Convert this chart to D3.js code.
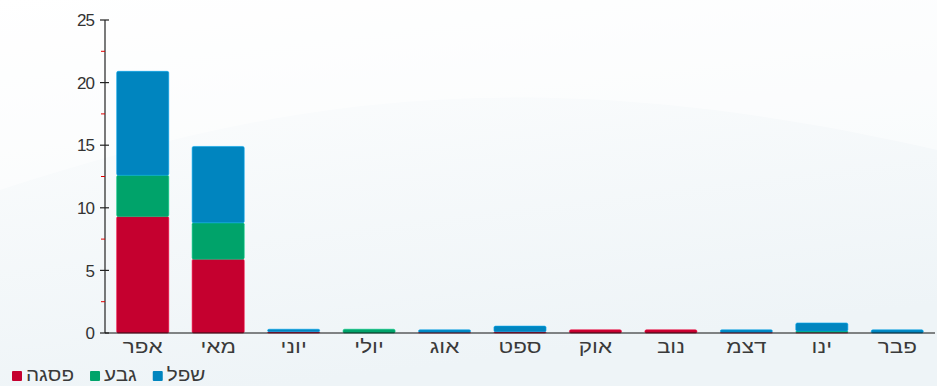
<!DOCTYPE html>
<html><head><meta charset="utf-8">
<script src="https://cdn.jsdelivr.net/npm/d3@7"></script>
<style>
html,body{margin:0;padding:0;}
body{width:937px;height:386px;overflow:hidden;}
text{font-family:"Liberation Sans","DejaVu Sans",sans-serif;}
</style></head><body>
<svg id="c" width="937" height="386"></svg>
<script>
const months = ["אפר","מאי","יוני","יולי","אוג","ספט","אוק","נוב","דצמ","ינו","פבר"];
const seriesNames = ["פסגה","גבע","שפל"];
const seriesColors = ["#c5002f","#00a36a","#0085bf"];
const peak    = [9.3, 5.9, 0.1, 0.0, 0.05, 0.1, 0.25, 0.25, 0.05, 0.05, 0.0];
const shoulder= [3.3, 2.9, 0.0, 0.3, 0.0, 0.0, 0.0, 0.0, 0.0, 0.1, 0.0];
const low     = [8.3, 6.1, 0.2, 0.0, 0.2, 0.45, 0.0, 0.0, 0.2, 0.65, 0.25];
const yTicks = [0,5,10,15,20,25];
const yMinor = [2.5,7.5,12.5,17.5,22.5];

const svg = d3.select("#c");
const defs = svg.append("defs");
const g1 = defs.append("linearGradient").attr("id","bg").attr("x1","0").attr("y1","0").attr("x2","0.3").attr("y2","1");
g1.append("stop").attr("offset","0").attr("stop-color","#ffffff");
g1.append("stop").attr("offset","1").attr("stop-color","#eef4f7");
svg.append("rect").attr("width",937).attr("height",386).attr("fill","url(#bg)");
svg.append("path").attr("d","M0,190 C250,110 500,50 937,150 L937,0 L0,0 Z").attr("fill","#ffffff").attr("opacity",0.45);

const x = d3.scaleBand().domain(months).range([105,935]).paddingInner(0.31).paddingOuter(0.155);
const y = d3.scaleLinear().domain([0,25]).range([333,20]);

const data = months.map((m,i)=>({m, "פסגה":peak[i], "גבע":shoulder[i], "שפל":low[i]}));
const stack = d3.stack().keys(seriesNames)(data);

const gb = svg.append("g");
stack.forEach((s,si)=>{
  gb.selectAll(null).data(s).enter().append("rect")
    .attr("x",d=>x(d.data.m))
    .attr("y",d=>y(d[1]))
    .attr("width",x.bandwidth())
    .attr("height",d=>Math.max(0,y(d[0])-y(d[1])))
    .attr("rx",1.5)
    .attr("fill",seriesColors[si])
    .attr("stroke",d3.color(seriesColors[si]).brighter(0.6))
    .attr("stroke-width",0.6);
});

// y axis
const ya = svg.append("g").attr("transform","translate(105,0)");
ya.append("line").attr("y1",y(25)).attr("y2",y(0)).attr("stroke","#222").attr("stroke-width",1.2);
ya.selectAll(".mj").data(yTicks).enter().append("line")
  .attr("x1",-5).attr("x2",4).attr("y1",d=>y(d)).attr("y2",d=>y(d)).attr("stroke","#222").attr("stroke-width",1.2);
ya.selectAll(".mn").data(yMinor).enter().append("line")
  .attr("x1",-4).attr("x2",0).attr("y1",d=>y(d)).attr("y2",d=>y(d)).attr("stroke","#e00000").attr("stroke-width",1);
ya.selectAll(".lb").data(yTicks).enter().append("text")
  .attr("x",-11).attr("y",d=>y(d)).attr("dy","0.36em").attr("text-anchor","end")
  .attr("font-size",17).attr("fill","#333").attr("letter-spacing","-1").text(d=>d);

// x axis
svg.append("line").attr("x1",105).attr("x2",935).attr("y1",y(0)).attr("y2",y(0)).attr("stroke","#111").attr("stroke-width",1.2);
svg.selectAll(".xl").data(months).enter().append("text")
  .attr("transform",d=>`translate(${x(d)+x.bandwidth()/2},353) scale(1.25,1)`)
  .attr("text-anchor","middle")
  .attr("font-size",18).attr("fill","#3a3a3a").text(d=>d);

// legend
const lg = svg.append("g");
let lx = 12;
seriesNames.forEach((n,i)=>{
  lg.append("rect").attr("x",lx).attr("y",371).attr("width",10).attr("height",10).attr("rx",1).attr("fill",seriesColors[i]);
  const t = lg.append("text").attr("transform",`translate(${lx+14},381) scale(1.15,1)`)
    .attr("font-size",18).attr("fill","#3a3a3a").attr("text-anchor","start").text(n);
  lx += 14 + t.node().getComputedTextLength()*1.15 + 16;
});
</script>
</body></html>
